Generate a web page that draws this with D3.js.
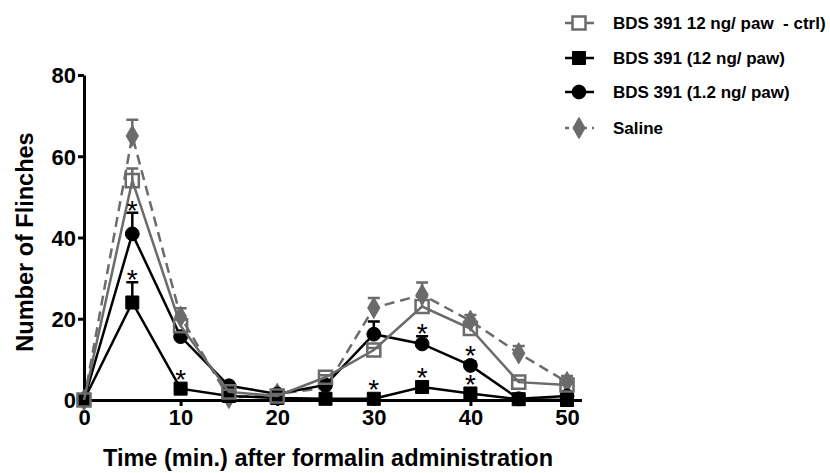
<!DOCTYPE html>
<html lang="en">
<head>
<meta charset="utf-8">
<title>Flinches</title>
<style>
  body { margin: 0; background: #fff; }
  svg text { font-family: "Liberation Sans", Arial, sans-serif; font-weight: bold; }
  .axis path, .axis line { stroke: #000; stroke-width: 3px; }
  .axis text { font-size: 22px; fill: #000; }
</style>
</head>
<body>
<div id="chart"></div>
<script src="https://cdn.jsdelivr.net/npm/d3@7"></script>
<script>
var times = [0, 5, 10, 15, 20, 25, 30, 35, 40, 45, 50];
var xTicks = [0, 10, 20, 30, 40, 50];
var yTicks = [0, 20, 40, 60, 80];

var ctrlMean   = [0, 54, 18.3, 2, 1, 5.6, 12.3, 23, 17.6, 4.4, 3.7];
var ctrlErr    = [0, 3, 1.5, 0.5, 0.5, 0.5, 0.5, 2.5, 1, 0.5, 0.5];
var bds12Mean  = [0, 24, 2.8, 1, 0.5, 0.3, 0.3, 3.2, 1.6, 0.2, 0];
var bds12Err   = [0, 5, 0.5, 0.3, 0.3, 0.2, 0.2, 0.8, 0.5, 0.2, 0.2];
var bds1Mean   = [0, 40.9, 15.6, 3.5, 1.5, 3.7, 16.2, 13.8, 8.5, 0.3, 1];
var bds1Err    = [0, 5.2, 1, 0.5, 0.5, 0.5, 3.1, 1.9, 1, 0.3, 0.3];
var salineMean = [0, 65, 20.5, 0.5, 1.5, 3, 22.7, 25.9, 19.5, 11.5, 4.4];
var salineErr  = [0, 4, 2.1, 0.5, 0.5, 0.5, 2.4, 3, 1.4, 1.8, 1.5];

var seriesNames = ["BDS 391 12 ng/ paw  - ctrl)", "BDS 391 (12 ng/ paw)", "BDS 391 (1.2 ng/ paw)", "Saline"];

// stars: [series index, time]
var stars = [[2, 5], [1, 5], [1, 10], [1, 30], [1, 35], [2, 35], [2, 40], [1, 40]];

var width = 830, height = 473;
var grey = "#6b6b6b";

var series = [
  { name: seriesNames[0], mean: ctrlMean, err: ctrlErr, color: grey, shape: "square", fill: "none", dash: null },
  { name: seriesNames[1], mean: bds12Mean, err: bds12Err, color: "#000", shape: "square", fill: "#000", dash: null },
  { name: seriesNames[2], mean: bds1Mean, err: bds1Err, color: "#000", shape: "circle", fill: "#000", dash: null },
  { name: seriesNames[3], mean: salineMean, err: salineErr, color: grey, shape: "diamond", fill: grey, dash: "10,6" }
];

var svg = d3.select("#chart").append("svg")
    .attr("width", width)
    .attr("height", height);

svg.append("rect").attr("width", width).attr("height", height).attr("fill", "#fff");

var x = d3.scaleLinear().domain([0, 51.5]).range([84, 581.5]);
var y = d3.scaleLinear().domain([0, 80]).range([400, 75]);

// axes
svg.append("g")
    .attr("class", "axis")
    .attr("transform", "translate(0,400)")
    .call(d3.axisBottom(x).tickValues(xTicks).tickSize(6).tickSizeOuter(0).tickPadding(3))
    .selectAll("text").attr("dy", "0.72em");

svg.append("g")
    .attr("class", "axis")
    .attr("transform", "translate(84,0)")
    .call(d3.axisLeft(y).tickValues(yTicks).tickSize(6).tickSizeOuter(0).tickPadding(2))
    .selectAll("text").attr("dy", "0.36em");

svg.append("text")
    .attr("x", 328).attr("y", 466)
    .attr("text-anchor", "middle")
    .style("font-size", "23.5px")
    .text("Time (min.) after formalin administration");

svg.append("text")
    .attr("transform", "translate(33,242) rotate(-90)")
    .attr("text-anchor", "middle")
    .style("font-size", "23.5px")
    .text("Number of Flinches");

var symbolFor = {
  square: d3.symbol().type(d3.symbolSquare).size(170),
  circle: d3.symbol().type(d3.symbolCircle).size(150),
  diamond: d3.symbol().type(d3.symbolDiamond).size(130)
};

var line = d3.line()
    .x(function(d) { return x(d.t); })
    .y(function(d) { return y(d.v); });

function pts(s) {
  return times.map(function(t, i) { return { t: t, v: s.mean[i], e: s.err[i] }; });
}

// draw order: saline, bds12, bds1.2, ctrl
var order = [3, 1, 2, 0];
order.forEach(function(k) {
  var s = series[k];
  var g = svg.append("g");
  var data = pts(s);

  g.selectAll(".err")
    .data(data.filter(function(d) { return d.e > 0; }))
    .enter().append("path")
      .attr("d", function(d) {
        var cx = x(d.t), y0 = y(d.v), y1 = y(d.v + d.e);
        return "M" + cx + "," + y0 + "V" + y1 + "M" + (cx - 6) + "," + y1 + "H" + (cx + 6);
      })
      .attr("stroke", s.color)
      .attr("stroke-width", 2.5)
      .attr("fill", "none");

  g.append("path")
    .datum(data)
    .attr("d", line)
    .attr("fill", "none")
    .attr("stroke", s.color)
    .attr("stroke-width", 2.5)
    .attr("stroke-dasharray", s.dash);

  g.selectAll(".pt")
    .data(data)
    .enter().append("path")
      .attr("transform", function(d) { return "translate(" + x(d.t) + "," + y(d.v) + ")"; })
      .attr("d", symbolFor[s.shape])
      .attr("fill", s.fill)
      .attr("stroke", s.color)
      .attr("stroke-width", s.fill === "none" ? 2.5 : 1);
});

// significance stars, centred just above the error cap or the marker
svg.selectAll(".star")
  .data(stars)
  .enter().append("text")
    .attr("x", function(d) { return x(d[1]); })
    .attr("y", function(d) {
      var s = series[d[0]], i = times.indexOf(d[1]);
      var c = Math.min(y(s.mean[i] + s.err[i]) - 9, y(s.mean[i]) - 16);
      return c + 16;
    })
    .attr("text-anchor", "middle")
    .style("font-size", "28px")
    .style("font-weight", "normal")
    .text("*");

// legend
var legendY = [23, 58, 92, 128];
var lg = svg.append("g");
series.forEach(function(s, i) {
  var row = lg.append("g").attr("transform", "translate(0," + legendY[i] + ")");
  row.append("line")
    .attr("x1", 565).attr("x2", 594)
    .attr("stroke", s.color).attr("stroke-width", 2.5)
    .attr("stroke-dasharray", s.dash ? "4,5" : null);
  row.append("path")
    .attr("transform", "translate(579,0)")
    .attr("d", symbolFor[s.shape])
    .attr("fill", s.fill === "none" ? "#fff" : s.fill)
    .attr("stroke", s.color)
    .attr("stroke-width", s.fill === "none" ? 2.5 : 1);
  row.append("text")
    .attr("x", 613).attr("y", 0)
    .attr("dy", "0.35em")
    .style("font-size", "17px")
    .style("white-space", "pre")
    .text(s.name);
});
</script>
</body>
</html>
